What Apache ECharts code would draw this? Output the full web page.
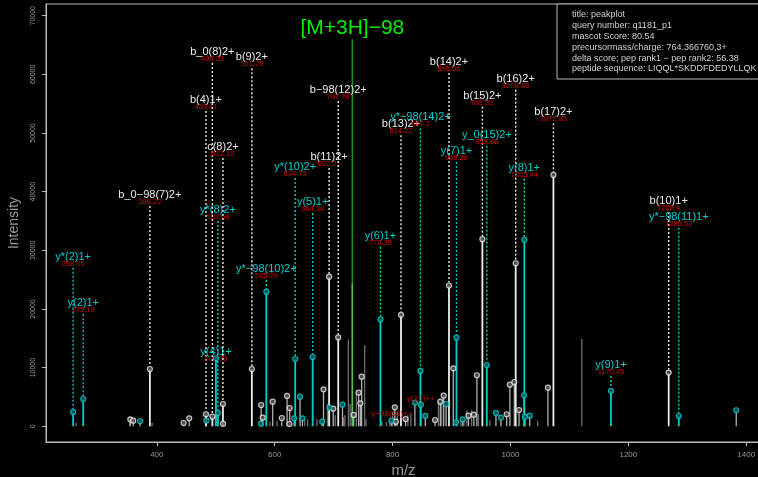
<!DOCTYPE html>
<html>
<head>
<meta charset="utf-8">
<script src="https://cdn.jsdelivr.net/npm/echarts@6/dist/echarts.min.js"></script>
<style>
  html, body { margin: 0; padding: 0; background: #000; }
  #peakplot { width: 758px; height: 477px; }
</style>
</head>
<body>
<div id="peakplot"></div>
<script>
// tick labels
var xTicks = [400, 600, 800, 1000, 1200, 1400];
var yTicks = [0, 10000, 20000, 30000, 40000, 50000, 60000, 70000];

// labelled fragment ions
var ionNames = ['y*(2)1+', 'y(2)1+', 'b_0\u221298(7)2+', 'b(4)1+', 'b_0(8)2+', 'y(4)1+', 'y*(8)2+', 'c(8)2+',
  'b(9)2+', 'y*\u221298(10)2+', 'y*(10)2+', 'y(5)1+', 'b(11)2+', 'b\u221298(12)2+', 'y(6)1+', 'b(13)2+',
  'y*\u221298(14)2+', 'b(14)2+', 'y(7)1+', 'b(15)2+', 'y_0(15)2+', 'b(16)2+', 'y(8)1+', 'b(17)2+',
  'y(9)1+', 'b(10)1+', 'y*\u221298(11)1+'];
var ionMz = [258.05, 275.13, 388.22, 483.41, 494.23, 500.33, 503.69, 512.18,
  561.25, 585.79, 634.75, 664.38, 692.25, 707.78, 779.35, 814.22,
  847.2, 895.66, 908.38, 952.31, 959.86, 1008.83, 1023.44, 1072.85,
  1170.45, 1268.4, 1285.52];
var ionIntensity = [2440, 4650, 9770, 2050, 1640, 11600, 2270, 3800,
  9770, 22950, 11470, 11800, 25500, 15150, 18240, 19000,
  9430, 24000, 15100, 31900, 10450, 27800, 31800, 42850,
  6020, 9150, 1750];
var ionType = ['y', 'y', 'b', 'b', 'b', 'y', 'y', 'b',
  'b', 'y', 'y', 'y', 'b', 'b', 'y', 'b',
  'y', 'b', 'y', 'b', 'y', 'b', 'y', 'b',
  'y', 'b', 'y'];
var ionLabelLevel = [28920, 20970, 39440, 55630, 63820, 12720, 36880, 47620,
  62910, 26820, 44210, 38240, 45920, 57340, 32500, 51490,
  52680, 62110, 46940, 56370, 49720, 59270, 44090, 53540,
  10450, 38410, 35740];

// matched peaks without a label (circle only)
var bMatchMz = [355, 360, 445.5, 455, 512.4, 577, 579.6, 596.6, 612, 621, 625.5, 625, 682.8, 699.3,
  734, 742.4, 745.3, 747.5, 803.7, 805.5, 822, 872, 881, 886.7, 903, 928.8, 937.8, 943,
  993.5, 999, 1006.5, 1014.5, 1063.5];
var bMatchInt = [1190, 950, 560, 1360, 440, 3630, 1470, 4200, 1410, 5170, 3120, 390, 6300, 3000,
  1930, 5730, 3920, 8460, 3240, 780, 1240, 1070, 4200, 5220, 9890, 1800, 1980, 8700,
  2050, 7100, 7550, 2780, 6580];
var yMatchMz = [371.7, 484, 576.7, 633, 643, 647, 680.6, 693, 715, 798, 837.8, 848, 855.5, 890.8,
  907.7, 919, 975.3, 983.8, 1023, 1024.5, 1032.7, 1383];
var yMatchInt = [900, 950, 440, 1360, 5050, 1360, 780, 3170, 3690, 950, 4050, 3690, 1760, 3800,
  680, 1190, 2270, 1470, 5290, 1640, 1800, 2730];

// unmatched peaks
var otherMz = [263, 354, 392, 592, 604, 651, 656, 671.6, 689.6, 702.7, 717, 719, 725, 728, 738.5,
  752.6, 755, 782, 789.6, 795, 800, 808, 826, 831, 877.7, 883.3, 916, 921, 926, 934, 945.7,
  965, 1046, 1121];
var otherInt = [600, 1100, 600, 780, 950, 1200, 1200, 1200, 3800, 1900, 1550, 1930, 14800, 3800, 6020,
  13860, 1200, 950, 780, 1000, 2500, 2500, 1900, 2100, 4300, 4300, 900, 1200, 2700, 2780, 2050,
  1000, 950, 14900];

// small red annotations
var noteText = ['y\u221298(13)++', 'y(13)++'];
var noteMz = [798.8, 848];
var noteLevel = [2050, 4700];

// precursor
var precursorMz = 731.7;
var precursorTop = 65980;
var precursorPeak = 24400;
var precursorLevel = 67860;
var precursorText = '[M+3H]\u221298';

var infoLines = [
  'title: peakplot',
  'query number: q1181_p1',
  'mascot Score: 80.54',
  'precursormass/charge: 764.366760,3+',
  'delta score; pep rank1 \u2212 pep rank2: 56.38',
  'peptide sequence: LIQQL*SKDDFDEDYLLQK'
];

var WHITE = '#ececec';
var CYAN = '#00cdcd';
var RED = '#cd0000';
var FONT = '"Liberation Sans", Arial, sans-serif';

function pairs(a, b) {
  return a.map(function (v, i) { return [v, b[i]]; });
}

function stemSeries(data, color, width, z) {
  return {
    type: 'custom',
    z: z,
    silent: true,
    clip: false,
    data: data,
    renderItem: function (params, api) {
      var p0 = api.coord([api.value(0), 0]);
      var p1 = api.coord([api.value(0), api.value(1)]);
      return {
        type: 'line',
        shape: { x1: p0[0], y1: p0[1], x2: p1[0], y2: p1[1] },
        style: { stroke: color, lineWidth: width }
      };
    }
  };
}

var bIons = [], yIons = [];
ionMz.forEach(function (m, i) {
  (ionType[i] === 'b' ? bIons : yIons).push([m, ionIntensity[i]]);
});

var ionData = ionMz.map(function (m, i) {
  return [m, ionIntensity[i], ionLabelLevel[i], i];
});

var chart = echarts.init(document.getElementById('peakplot'));
chart.setOption({
  backgroundColor: '#000',
  animation: false,
  grid: {
    left: 46, top: 4, right: -3, bottom: 35,
    containLabel: false, outerBoundsMode: 'none',
    show: true, borderColor: '#bbb', borderWidth: 1
  },
  xAxis: {
    type: 'value', min: 212, max: 1425,
    name: 'm/z', nameLocation: 'middle', nameGap: 21, nameMoveOverlap: false,
    nameTextStyle: { color: '#999', fontSize: 15, fontFamily: FONT },
    axisLine: { show: true, onZero: false, lineStyle: { color: '#bbb' } },
    axisTick: { show: true, customValues: xTicks, length: 4, lineStyle: { color: '#bbb' } },
    axisLabel: { customValues: xTicks, color: '#999', fontSize: 8, margin: 9, fontFamily: FONT,
      formatter: function (v) { return String(v); } },
    splitLine: { show: false }
  },
  yAxis: {
    type: 'value', min: -2680, max: 72000,
    name: 'Intensity', nameLocation: 'middle', nameGap: 25, nameMoveOverlap: false,
    nameTextStyle: { color: '#999', fontSize: 14, fontFamily: FONT },
    axisLine: { show: true, onZero: false, lineStyle: { color: '#bbb' } },
    axisTick: { show: true, customValues: yTicks, length: 4, lineStyle: { color: '#bbb' } },
    axisLabel: { customValues: yTicks, rotate: 90, color: '#999', fontSize: 7, margin: 9, fontFamily: FONT,
      formatter: function (v) { return String(v); } },
    splitLine: { show: false }
  },
  series: [
    stemSeries(pairs(otherMz, otherInt), '#6e6e6e', 1.3, 1),
    stemSeries(pairs(bMatchMz, bMatchInt), '#b0b0b0', 1.3, 2),
    stemSeries(pairs(yMatchMz, yMatchInt), '#b0b0b0', 1.3, 2),
    stemSeries([[precursorMz, precursorTop]], '#149414', 1.5, 3),
    stemSeries([[precursorMz, precursorPeak]], '#4cc44c', 1.5, 3),
    stemSeries(bIons, WHITE, 1.8, 4),
    stemSeries(yIons, CYAN, 1.8, 4),
    {
      // dashed guide lines and ion labels
      type: 'custom',
      z: 6,
      silent: true,
      clip: false,
      data: ionData,
      renderItem: function (params, api) {
        var i = api.value(3);
        var top = api.coord([api.value(0), api.value(1)]);
        var lab = api.coord([api.value(0), api.value(2)]);
        var col = ionType[i] === 'b' ? WHITE : CYAN;
        var children = [];
        if (lab[1] + 11 < top[1] - 3) {
          children.push({
            type: 'line',
            shape: { x1: lab[0], y1: lab[1] + 11, x2: top[0], y2: top[1] - 3 },
            style: { stroke: col, lineWidth: 1.4, lineDash: [2, 2] }
          });
        }
        children.push({
          type: 'text',
          style: { text: ionNames[i], x: lab[0], y: lab[1], fill: col, fontSize: 11, fontFamily: FONT,
            align: 'center', verticalAlign: 'middle' }
        });
        children.push({
          type: 'text',
          style: { text: String(ionMz[i]), x: lab[0], y: lab[1] + 7, fill: RED, fontSize: 7.5, fontFamily: FONT,
            align: 'center', verticalAlign: 'middle' }
        });
        return { type: 'group', children: children };
      }
    },
    {
      type: 'scatter', z: 7, silent: true, symbol: 'circle', symbolSize: 5,
      data: bIons.concat(pairs(bMatchMz, bMatchInt)),
      itemStyle: { color: '#555', borderColor: WHITE, borderWidth: 1.2 }
    },
    {
      type: 'scatter', z: 7, silent: true, symbol: 'circle', symbolSize: 5,
      data: yIons.concat(pairs(yMatchMz, yMatchInt)),
      itemStyle: { color: '#0b5557', borderColor: CYAN, borderWidth: 1.2 }
    },
    {
      type: 'custom',
      z: 8,
      silent: true,
      clip: false,
      data: noteMz.map(function (m, i) { return [m, noteLevel[i], i]; }),
      renderItem: function (params, api) {
        var p = api.coord([api.value(0), api.value(1)]);
        return {
          type: 'text',
          style: { text: noteText[api.value(2)], x: p[0], y: p[1], fill: RED, fontSize: 8, fontFamily: FONT,
            align: 'center', verticalAlign: 'middle' }
        };
      }
    },
    {
      type: 'custom',
      z: 8,
      silent: true,
      clip: false,
      data: [[precursorMz, precursorLevel]],
      renderItem: function (params, api) {
        var p = api.coord([api.value(0), api.value(1)]);
        return {
          type: 'text',
          style: { text: precursorText, x: p[0], y: p[1], fill: '#00ee00', fontSize: 21, fontFamily: FONT,
            align: 'center', verticalAlign: 'middle' }
        };
      }
    }
  ],
  graphic: [
    {
      type: 'rect', z: 10, silent: true,
      shape: { x: 557, y: 4, width: 220, height: 75 },
      style: { fill: '#000', stroke: '#bbb', lineWidth: 1 }
    }
  ].concat(infoLines.map(function (t, i) {
    return {
      type: 'text', z: 11, silent: true,
      style: { text: t, x: 572, y: 15 + i * 10.8, fill: '#d0d0d0', fontSize: 9, fontFamily: FONT,
        verticalAlign: 'middle' }
    };
  }))
});
</script>
</body>
</html>
